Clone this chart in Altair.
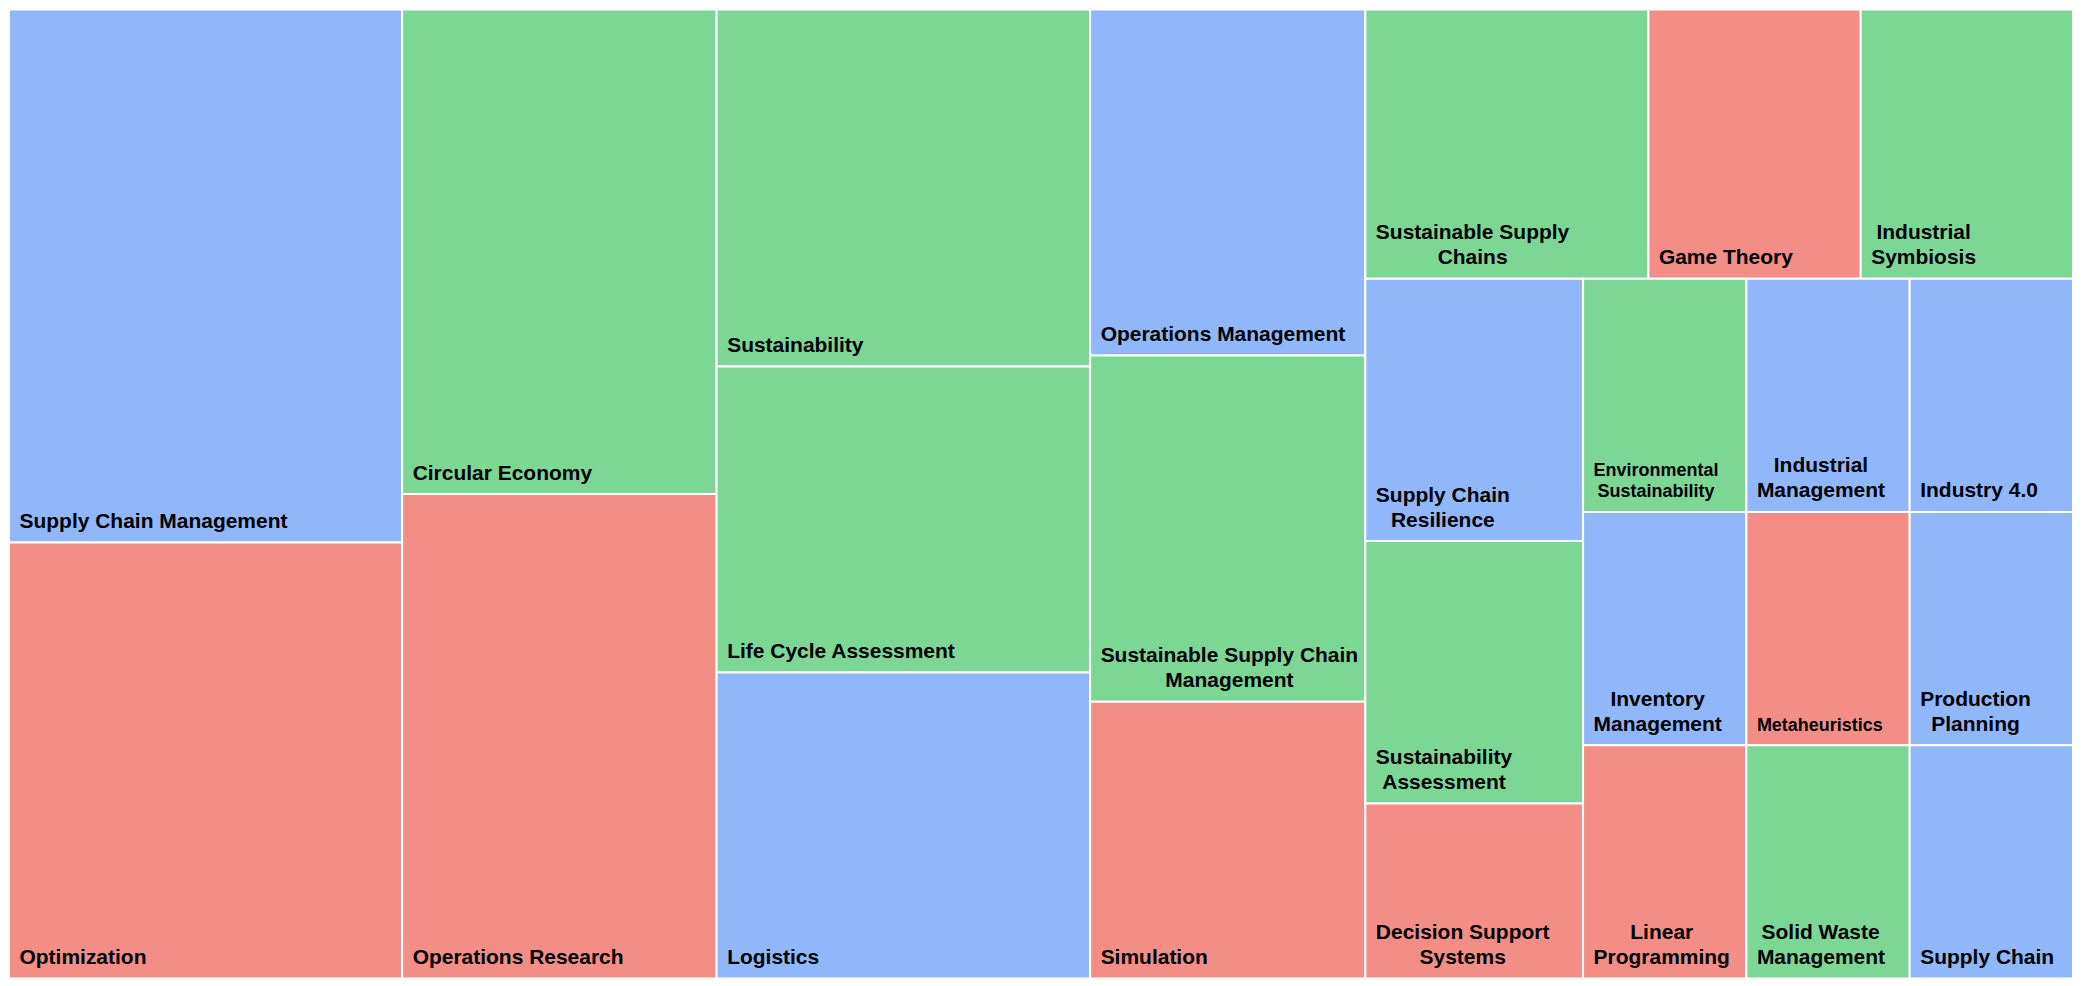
import altair as alt
import pandas as pd

# ---- data (counts per topic) ----
topics = [
    "Supply Chain Management", "Optimization", "Circular Economy", "Operations Research",
    "Sustainability", "Life Cycle Assessment", "Logistics", "Operations Management",
    "Sustainable Supply Chain Management", "Simulation", "Sustainable Supply Chains",
    "Game Theory", "Industrial Symbiosis", "Supply Chain Resilience", "Sustainability Assessment",
    "Decision Support Systems", "Environmental Sustainability", "Industrial Management",
    "Industry 4.0", "Inventory Management", "Linear Programming", "Metaheuristics",
    "Production Planning", "Solid Waste Management", "Supply Chain",
]
counts = [11, 9, 8, 8, 7, 6, 6, 5, 5, 4, 4, 3, 3, 3, 3, 2, 2, 2, 2, 2, 2, 2, 2, 2, 2]
groups = [
    "Management", "Methods", "Sustainability", "Methods",
    "Sustainability", "Sustainability", "Management", "Management",
    "Sustainability", "Methods", "Sustainability",
    "Methods", "Sustainability", "Management", "Sustainability",
    "Methods", "Sustainability", "Management",
    "Management", "Management", "Methods", "Methods",
    "Management", "Sustainability", "Management",
]
group_names = ["Management", "Sustainability", "Methods"]
group_colors = ["#8fb7fa", "#7dd794", "#f28e85"]

# ---- layout (squarified treemap, d3-style) ----
W, H = 2066, 970
RATIO = 0.975

order = sorted(range(len(topics)), key=lambda i: (-counts[i], topics[i]))
vals = [counts[i] for i in order]


def squarify(values, x0, y0, x1, y1, ratio):
    n = len(values)
    out = [None] * n
    i0 = i1 = 0
    value = float(sum(values))
    while i0 < n:
        dx, dy = x1 - x0, y1 - y0
        s = values[i1]
        i1 += 1
        mn = mx = s
        alpha = max(dy / dx, dx / dy) / (value * ratio)
        beta = s * s * alpha
        best = max(mx / beta, beta / mn)
        while i1 < n:
            nv = values[i1]
            s += nv
            mn, mx = min(mn, nv), max(mx, nv)
            beta = s * s * alpha
            r = max(mx / beta, beta / mn)
            if r > best:
                s -= nv
                break
            best = r
            i1 += 1
        if dx < dy:
            ny = y0 + dy * s / value
            xx = x0
            for i in range(i0, i1):
                w = (x1 - x0) * values[i] / s
                out[i] = (xx, y0, xx + w, ny)
                xx += w
            y0 = ny
        else:
            nx = x0 + dx * s / value
            yy = y0
            for i in range(i0, i1):
                h = (y1 - y0) * values[i] / s
                out[i] = (x0, yy, nx, yy + h)
                yy += h
            x0 = nx
        value -= s
        i0 = i1
    return out


cells = squarify(vals, 0.0, 0.0, float(W), float(H), RATIO)

# Arial/Helvetica Bold advance widths (per 1000 em) for label wrapping
CHAR_W = {
    "A": 722, "B": 722, "C": 722, "D": 722, "E": 667, "F": 611, "G": 778, "H": 722,
    "I": 278, "J": 556, "K": 722, "L": 611, "M": 833, "N": 722, "O": 778, "P": 667,
    "Q": 778, "R": 722, "S": 667, "T": 611, "U": 722, "V": 667, "W": 944, "X": 667,
    "Y": 667, "Z": 611, "a": 556, "b": 611, "c": 556, "d": 611, "e": 556, "f": 333,
    "g": 611, "h": 611, "i": 278, "j": 278, "k": 556, "l": 278, "m": 889, "n": 611,
    "o": 611, "p": 611, "q": 611, "r": 389, "s": 556, "t": 333, "u": 611, "v": 556,
    "w": 778, "x": 556, "y": 556, "z": 500, " ": 278, ".": 278,
}


def text_w(s, fs):
    return sum(CHAR_W.get(c, 556) for c in s) * fs / 1000.0


def wrap(words, fs, avail):
    lines, cur = [], ""
    for w in words:
        t = w if not cur else cur + " " + w
        if not cur or text_w(t, fs) <= avail:
            cur = t
        else:
            lines.append(cur)
            cur = w
    lines.append(cur)
    return lines


rect_rows, label_rows = [], []
for k, idx in enumerate(order):
    x0, y0, x1, y1 = cells[k]
    rect_rows.append({"topic": topics[idx], "count": counts[idx], "group": groups[idx],
                      "x0": x0, "x1": x1, "y0": y0, "y1": y1})
    words = topics[idx].split(" ")
    w = x1 - x0
    fs = 21
    if max(text_w(wd, fs) for wd in words) > w - 20:
        fs = 18
    lines = wrap(words, fs, w - 16)
    block = max(text_w(l, fs) for l in lines)
    lh = fs * 1.19
    n = len(lines)
    for j, line in enumerate(lines):
        label_rows.append({
            "text": line,
            "fs": fs,
            "x": x0 + 10.5 + (block - text_w(line, fs)) / 2.0,
            "y": y1 - 14.5 - (n - 1 - j) * lh,
        })

rects_df = pd.DataFrame(rect_rows)
labels_df = pd.DataFrame(label_rows)

xs = alt.Scale(domain=[0, W], nice=False, zero=False)
ys = alt.Scale(domain=[0, H], nice=False, zero=False, reverse=True)

rects = alt.Chart(rects_df).mark_rect(stroke="white", strokeWidth=2).encode(
    x=alt.X("x0:Q", scale=xs, axis=None),
    x2="x1:Q",
    y=alt.Y("y0:Q", scale=ys, axis=None),
    y2="y1:Q",
    color=alt.Color("group:N", scale=alt.Scale(domain=group_names, range=group_colors), legend=None),
    tooltip=["topic:N", "count:Q"],
)

labels = alt.Chart(labels_df).mark_text(
    align="left", baseline="alphabetic", font="Liberation Sans", fontWeight="bold", color="#000000"
).encode(
    x=alt.X("x:Q", scale=xs, axis=None),
    y=alt.Y("y:Q", scale=ys, axis=None),
    text="text:N",
    size=alt.Size("fs:Q", scale=None, legend=None),
)

chart = alt.layer(rects, labels).properties(width=W, height=H, padding=0).configure_view(strokeWidth=0)

chart.save("out.html", embed_options={"renderer": "svg", "actions": False})
